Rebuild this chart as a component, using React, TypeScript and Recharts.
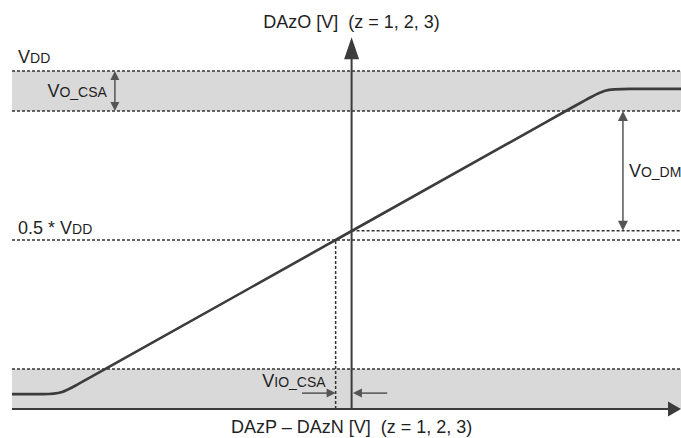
import React from "react";
import { ComposedChart, Line, XAxis, YAxis, ReferenceLine, ReferenceArea } from "recharts";

// Transfer characteristic of the current sense amplifier, normalised to VDD
const inputV = [-1.0, -0.9, -0.857, -0.8, -0.047, 0.69, 0.747, 0.8, 0.97];
const outputV = [0.044, 0.044, 0.044, 0.076, 0.5, 0.915, 0.947, 0.947, 0.947];

const VDD = 1;
const VO_CSA = 0.118;
const HALF_VDD = 0.5;
const OUT_AT_ZERO = 0.527;
const VIO_CSA = -0.047;

const X_DOMAIN: [number, number] = [-1, 0.97];
const Y_DOMAIN: [number, number] = [0, 1.1];

const curve = inputV.map((x, i) => ({ x, y: outputV[i] }));

const FONT = '"Liberation Sans", Arial, Helvetica, sans-serif';
const TEXT = "#1f1f1f";
const AXIS = "#3c3c3c";
const DIM = "#555555";
const DOT = "#333333";
const BAND = "#d9d9d9";

type Seg = { x1: number; y1: number; x2: number; y2: number };

function SubText({
  x,
  y,
  main,
  sub,
  anchor = "start",
}: {
  x: number;
  y: number;
  main: string;
  sub?: string;
  anchor?: "start" | "middle" | "end";
}) {
  return (
    <text
      x={x}
      y={y}
      textAnchor={anchor}
      fontFamily={FONT}
      fontSize={18}
      fill={TEXT}
      style={{ whiteSpace: "pre" }}
    >
      {main}
      {sub && <tspan fontSize={14}>{sub}</tspan>}
    </text>
  );
}

// line with filled arrowheads at either end
function Arrow({
  x1,
  y1,
  x2,
  y2,
  color,
  width,
  head,
  headW,
  start = false,
  end = true,
}: Seg & {
  color: string;
  width: number;
  head: number;
  headW: number;
  start?: boolean;
  end?: boolean;
}) {
  const dx = x2 - x1;
  const dy = y2 - y1;
  const len = Math.hypot(dx, dy) || 1;
  const ux = dx / len;
  const uy = dy / len;
  const px = -uy;
  const py = ux;
  const tri = (tx: number, ty: number, dir: number) => {
    const bx = tx - dir * ux * head;
    const by = ty - dir * uy * head;
    return `${tx},${ty} ${bx + (px * headW) / 2},${by + (py * headW) / 2} ${bx - (px * headW) / 2},${by - (py * headW) / 2}`;
  };
  const sx = start ? x1 + ux * head * 0.6 : x1;
  const sy = start ? y1 + uy * head * 0.6 : y1;
  const ex = end ? x2 - ux * head * 0.6 : x2;
  const ey = end ? y2 - uy * head * 0.6 : y2;
  return (
    <g>
      <line x1={sx} y1={sy} x2={ex} y2={ey} stroke={color} strokeWidth={width} />
      {start && <polygon points={tri(x1, y1, -1)} fill={color} />}
      {end && <polygon points={tri(x2, y2, 1)} fill={color} />}
    </g>
  );
}

const dotted = (label?: (p: Seg) => React.ReactNode) => (p: any) => (
  <g>
    <line
      x1={p.x1}
      y1={p.y1}
      x2={p.x2}
      y2={p.y2}
      stroke={DOT}
      strokeWidth={1.5}
      strokeDasharray="3 2"
    />
    {label && label(p)}
  </g>
);

export default function App() {
  return (
    <div style={{ position: "absolute", left: 0, top: 0, background: "#fff" }}>
      <ComposedChart
        width={681}
        height={438}
        data={curve}
        margin={{ top: 37.2, right: 0, bottom: 29, left: 12 }}
      >
        <XAxis dataKey="x" type="number" domain={X_DOMAIN} hide />
        <YAxis type="number" domain={Y_DOMAIN} hide width={0} />

        {/* saturation bands */}
        <ReferenceArea y1={VDD - VO_CSA} y2={VDD} fill={BAND} fillOpacity={1} stroke="none" />
        <ReferenceArea y1={0} y2={VO_CSA} fill={BAND} fillOpacity={1} stroke="none" />

        {/* level markers */}
        <ReferenceLine
          y={VDD}
          shape={dotted((p) => <SubText x={p.x1 + 6} y={p.y1 - 8} main="V" sub="DD" />)}
        />
        <ReferenceLine y={VDD - VO_CSA} shape={dotted()} />
        <ReferenceLine
          y={HALF_VDD}
          shape={dotted((p) => <SubText x={p.x1 + 6} y={p.y1 - 6} main="0.5 * V" sub="DD" />)}
        />
        <ReferenceLine y={VO_CSA} shape={dotted()} />
        <ReferenceLine
          segment={[
            { x: 0, y: OUT_AT_ZERO },
            { x: X_DOMAIN[1], y: OUT_AT_ZERO },
          ]}
          shape={dotted()}
        />
        <ReferenceLine
          segment={[
            { x: VIO_CSA, y: 0 },
            { x: VIO_CSA, y: HALF_VDD },
          ]}
          shape={dotted()}
        />

        {/* axes */}
        <ReferenceLine
          segment={[
            { x: X_DOMAIN[0], y: 0 },
            { x: X_DOMAIN[1], y: 0 },
          ]}
          ifOverflow="visible"
          shape={(p: any) => (
            <Arrow {...p} color={AXIS} width={2} head={13} headW={15} />
          )}
        />
        <ReferenceLine
          segment={[
            { x: 0, y: 0 },
            { x: 0, y: Y_DOMAIN[1] },
          ]}
          ifOverflow="visible"
          shape={(p: any) => (
            <g>
              <Arrow {...p} color={AXIS} width={2} head={22} headW={15} />
              <SubText x={p.x2} y={p.y2 - 9} main="DAzO [V]  (z = 1, 2, 3)" anchor="middle" />
              <SubText x={p.x1} y={p.y1 + 24} main="DAzP – DAzN [V]  (z = 1, 2, 3)" anchor="middle" />
            </g>
          )}
        />

        {/* dimension arrows */}
        <ReferenceLine
          segment={[
            { x: -0.697, y: VDD - VO_CSA },
            { x: -0.697, y: VDD },
          ]}
          shape={(p: any) => (
            <g>
              <Arrow {...p} color={DIM} width={1.5} head={9} headW={9} start end />
              <SubText x={p.x1 - 8} y={(p.y1 + p.y2) / 2 + 6} main="V" sub="O_CSA" anchor="end" />
            </g>
          )}
        />
        <ReferenceLine
          segment={[
            { x: 0.799, y: OUT_AT_ZERO },
            { x: 0.799, y: VDD - VO_CSA },
          ]}
          shape={(p: any) => (
            <g>
              <Arrow {...p} color={DIM} width={1.5} head={10} headW={10} start end />
              <SubText x={p.x1 + 6} y={(p.y1 + p.y2) / 2 + 6.5} main="V" sub="O_DM" />
            </g>
          )}
        />
        <ReferenceLine
          segment={[
            { x: -0.146, y: 0.047 },
            { x: VIO_CSA, y: 0.047 },
          ]}
          shape={(p: any) => (
            <g>
              <Arrow {...p} color={DIM} width={1.5} head={9} headW={9} />
              <SubText x={p.x2 - 10} y={p.y1 - 6} main="V" sub="IO_CSA" anchor="end" />
            </g>
          )}
        />
        <ReferenceLine
          segment={[
            { x: 0.105, y: 0.047 },
            { x: 0.004, y: 0.047 },
          ]}
          shape={(p: any) => <Arrow {...p} color={DIM} width={1.5} head={9} headW={9} />}
        />

        <Line
          dataKey="y"
          type="basis"
          stroke={AXIS}
          strokeWidth={2.6}
          dot={false}
          activeDot={false}
          isAnimationActive={false}
        />
      </ComposedChart>
    </div>
  );
}
